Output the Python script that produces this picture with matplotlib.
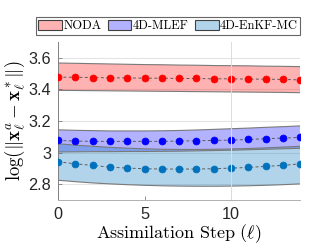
import numpy as np
import matplotlib
matplotlib.use('Agg')
import matplotlib.pyplot as plt
from matplotlib.patches import Patch

plt.rcParams['mathtext.fontset'] = 'cm'

## assimilation steps
steps = np.arange(15)

## NODA
noda_mean = [3.477, 3.477, 3.475, 3.473, 3.473, 3.471, 3.471, 3.469,
             3.469, 3.467, 3.467, 3.465, 3.465, 3.463, 3.460]
noda_up = [3.567, 3.565, 3.563, 3.561, 3.559, 3.557, 3.556, 3.554,
           3.553, 3.551, 3.550, 3.549, 3.547, 3.546, 3.544]
noda_lo = [3.394, 3.393, 3.392, 3.391, 3.390, 3.389, 3.388, 3.387,
           3.386, 3.385, 3.384, 3.383, 3.382, 3.381, 3.379]

## 4D-MLEF
mlef_mean = [3.077, 3.073, 3.071, 3.071, 3.071, 3.071, 3.071, 3.073,
             3.075, 3.077, 3.079, 3.083, 3.088, 3.092, 3.096]
mlef_up = [3.144, 3.141, 3.139, 3.137, 3.137, 3.137, 3.138, 3.140,
           3.143, 3.147, 3.151, 3.155, 3.160, 3.164, 3.169]
mlef_lo = [3.004, 3.005, 3.006, 3.006, 3.007, 3.007, 3.008, 3.009,
           3.011, 3.013, 3.015, 3.018, 3.021, 3.024, 3.027]

## 4D-EnKF-MC
enkf_mean = [2.942, 2.929, 2.919, 2.908, 2.902, 2.898, 2.896, 2.896,
             2.896, 2.898, 2.902, 2.906, 2.913, 2.919, 2.929]
enkf_up = [3.056, 3.047, 3.040, 3.033, 3.028, 3.024, 3.021, 3.020,
           3.020, 3.021, 3.023, 3.026, 3.030, 3.035, 3.040]
enkf_lo = [2.825, 2.816, 2.808, 2.802, 2.797, 2.793, 2.790, 2.788,
           2.787, 2.787, 2.788, 2.790, 2.793, 2.797, 2.802]

labels = ['NODA', '4D-MLEF', '4D-EnKF-MC']
colors = ['#ff0000', '#0000ff', '#0072bd']
means = [noda_mean, mlef_mean, enkf_mean]
ups = [noda_up, mlef_up, enkf_up]
los = [noda_lo, mlef_lo, enkf_lo]

fig = plt.figure(figsize=(3.32, 2.5), dpi=100)
ax = fig.add_axes([0.175, 0.2, 0.729, 0.632])

for m, u, l, c in zip(means, ups, los, colors):
    ax.fill_between(steps, l, u, facecolor=c, alpha=0.3, edgecolor='none', zorder=1)
    ax.plot(steps, u, color='#7a7a7a', lw=0.8, zorder=2)
    ax.plot(steps, l, color='#7a7a7a', lw=0.8, zorder=2)

for m, c in zip(means, colors):
    ax.plot(steps, m, ls=(0, (3, 2.5)), color='#5a5a5a', lw=0.7, zorder=3)
    ax.plot(steps, m, ls='none', marker='o', ms=5, mfc=c, mec=c, mew=0.5, zorder=4)

ax.set_xlim(0, 14)
ax.set_ylim(2.7, 3.7)
ax.set_xticks([0, 5, 10])
ax.set_yticks([2.8, 3.0, 3.2, 3.4, 3.6])
ax.set_yticklabels(['2.8', '3', '3.2', '3.4', '3.6'])

ax.yaxis.grid(True, color='#e4e4e4', lw=0.8, zorder=0)
ax.set_axisbelow(True)
ax.axvline(10, color='#dcdcdc', lw=0.7, zorder=5)

for s in ['top', 'right']:
    ax.spines[s].set_visible(False)
ax.spines['left'].set_color('#808080')
ax.spines['bottom'].set_color('#b0b0b0')
ax.spines['left'].set_linewidth(0.7)
ax.spines['bottom'].set_linewidth(0.7)
ax.tick_params(direction='in', length=3, width=0.6, color='#808080',
               labelsize=11.7, pad=5)
for t in ax.get_xticklabels() + ax.get_yticklabels():
    t.set_fontfamily('Liberation Sans')
    t.set_color('#262626')

ax.set_xlabel(r'$\mathrm{Assimilation\ Step\ }(\ell)$', fontsize=13, labelpad=0)
ax.set_ylabel(r'$\log(\|\mathbf{x}^a_\ell - \mathbf{x}^*_\ell\|)$', fontsize=13.5, labelpad=1)

handles = [Patch(facecolor=c, alpha=0.3, edgecolor='#404040', lw=0.8) for c in colors]
handles = [Patch(facecolor=h.get_facecolor(), edgecolor='#404040', lw=0.8) for h in handles]
leg = fig.legend(handles, labels, loc='center', bbox_to_anchor=(168 / 332, 1 - 26 / 250),
                 ncol=3, prop={'family': 'cmr10', 'size': 9}, frameon=True, fancybox=False,
                 handlelength=1.9, handleheight=0.8, handletextpad=0.1, columnspacing=0.5,
                 borderpad=0.2, borderaxespad=0)
leg.get_frame().set_edgecolor('#404040')
leg.get_frame().set_linewidth(0.8)

fig.savefig('out.png', dpi=100)
